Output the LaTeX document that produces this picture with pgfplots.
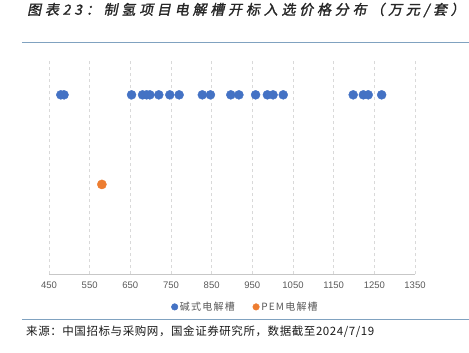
\documentclass[border=0pt]{standalone}
\usepackage{fontspec}
\setmainfont{Liberation Sans}
\newfontfamily\cjk{Noto Sans CJK SC}
\newfontfamily\cjklegend[LetterSpace=12]{Noto Sans CJK SC}
\newfontfamily\cjksrc[LetterSpace=5]{Noto Sans CJK SC}
\newfontfamily\cjktitle[FakeSlant=0.2,FakeBold=1.4,LetterSpace=27]{Noto Sans CJK SC}
\usepackage{pgfplots}
\pgfplotsset{compat=1.18}
\definecolor{cblue}{HTML}{4472C4}
\definecolor{corange}{HTML}{ED7D31}
\definecolor{rulec}{RGB}{128,162,192}
\definecolor{tickc}{HTML}{595959}
\definecolor{gridc}{HTML}{D9D9D9}
\begin{document}
\begin{tikzpicture}[x=1bp,y=1bp]
\useasboundingbox (-49,-78) rectangle (420,274);
\begin{axis}[
  at={(0,0)}, anchor=south west,
  scale only axis, width=366bp, height=215bp,
  xmin=450, xmax=1350, ymin=0, ymax=2.4,
  xtick={450,550,...,1350},
  ytick=\empty,
  axis y line=none,
  axis x line*=bottom,
  x axis line style={draw=gridc!80!gray, line width=0.8pt, -},
  xmajorgrids,
  grid style={gridc, dash pattern=on 3bp off 3bp, line width=0.7pt},
  major tick length=0pt,
  tick style={draw=none},
  x tick label style={font=\fontsize{9.5bp}{11bp}\selectfont, text=tickc, yshift=-4bp},
  /pgf/number format/assume math mode=true,
  /pgf/number format/1000 sep={},
  clip=false,
  legend columns=2,
  legend style={at={(0.537,-0.153)}, anchor=center, draw=none, fill=none,
    font=\fontsize{10bp}{12bp}\selectfont\cjklegend, text=tickc,
    /tikz/every even column/.append style={column sep=16bp}},
  legend image code/.code={\draw[#1] plot coordinates {(0.6bp,0)};},
]
\addplot[only marks, mark=*, mark size=4.5bp, color=cblue, mark options={draw=cblue, fill=cblue}, forget plot]
coordinates {
(479,2) (487,2) (653,2) (680,2) (690,2) (698,2) (720,2) (747,2) (770,2)
(827,2) (847,2) (897,2) (917,2) (958,2) (987,2) (1001,2) (1026,2)
(1198,2) (1223,2) (1235,2) (1268,2)
};
\addplot[only marks, mark=*, mark size=4.6bp, color=corange, mark options={draw=corange, fill=corange}, forget plot]
coordinates {(580,1)};
\addlegendimage{only marks, mark=*, mark size=3.3bp, color=cblue, mark options={draw=cblue, fill=cblue}}
\addlegendentry{碱式电解槽}
\addlegendimage{only marks, mark=*, mark size=3.3bp, color=corange, mark options={draw=corange, fill=corange}}
\addlegendentry{PEM电解槽}
\end{axis}
\node[anchor=west, inner sep=0pt, font=\fontsize{14bp}{16bp}\selectfont\cjktitle, text=black!85] at (-22,264) {图表23：制氢项目电解槽开标入选价格分布（万元/套）};
\draw[rulec, line width=1pt] (-27,232) -- (420,232);
\draw[rulec, line width=1pt] (-27,-45) -- (420,-45);
\node[anchor=west, inner sep=0pt, font=\fontsize{11.5bp}{13bp}\selectfont\cjksrc, text=black!90] at (-23,-58) {来源：中国招标与采购网，国金证券研究所，数据截至2024/7/19};
\end{tikzpicture}
\end{document}
